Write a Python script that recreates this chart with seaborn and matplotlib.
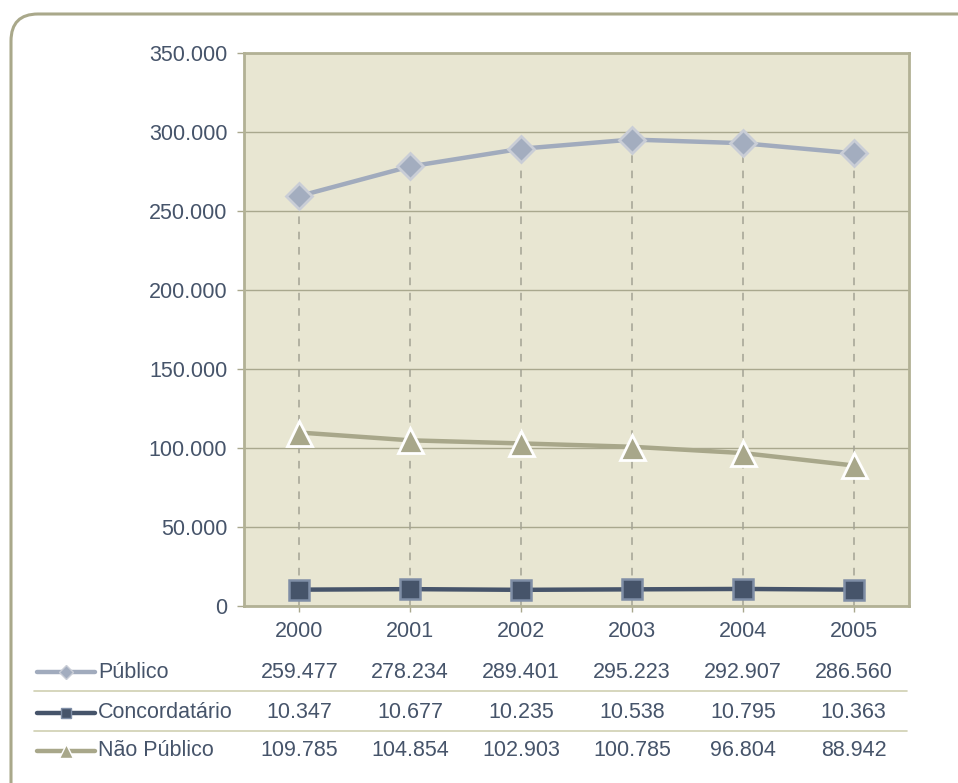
import pandas as pd
import matplotlib
matplotlib.use('Agg')
import matplotlib.pyplot as plt
import matplotlib.transforms as mtransforms
from matplotlib.patches import FancyBboxPatch
from matplotlib.lines import Line2D
import seaborn as sns

years = ['2000', '2001', '2002', '2003', '2004', '2005']
publico = [259477, 278234, 289401, 295223, 292907, 286560]
concordatario = [10347, 10677, 10235, 10538, 10795, 10363]
nao_publico = [109785, 104854, 102903, 100785, 96804, 88942]
series_names = ['Público', 'Concordatário', 'Não Público']
yticks = [0, 50000, 100000, 150000, 200000, 250000, 300000, 350000]

def fmt(v):
    return '{:,}'.format(v).replace(',', '.')

rows = []
for name, vals in zip(series_names, [publico, concordatario, nao_publico]):
    for i, (y, v) in enumerate(zip(years, vals)):
        rows.append({'pos': i, 'Ano': y, 'Série': name, 'Valor': v})
df = pd.DataFrame(rows)

sns.set_theme(style='white')
plt.rcParams['font.family'] = ['Liberation Sans', 'DejaVu Sans']
txt = '#46546a'

fig = plt.figure(figsize=(9.58, 7.83), dpi=100)
ax = fig.add_axes([244 / 958, 177 / 783, 665 / 958, 553 / 783])
ax.set_facecolor('#e8e6d2')

# rounded frame around the whole chart (inches, runs off right and bottom)
frame = FancyBboxPatch((0.11, -0.3), 9.85, 7.99,
                       boxstyle='round,pad=0,rounding_size=0.27',
                       transform=fig.dpi_scale_trans, fill=False,
                       edgecolor='#a9a88a', linewidth=2.2, zorder=0)
fig.patches.append(frame)

# drop lines
ax.vlines(range(len(years)), 0, publico, colors='#a4a394', linestyles=(0, (5, 5)),
          linewidth=1.1, zorder=1)

styles = {
    'Público': dict(color='#a1abbd', marker='D', ms=13, mfc='#a3adbf', mec='#c9cdd6', mew=2),
    'Concordatário': dict(color='#46546a', marker='s', ms=14, mfc='#46546a', mec='#7f8ea6', mew=1.8),
    'Não Público': dict(color='#a8a78a', marker='^', ms=18, mfc='#a8a78a', mec='white', mew=2),
}
for name in series_names:
    st = styles[name]
    sns.lineplot(data=df[df['Série'] == name], x='pos', y='Valor', ax=ax,
                 color=st['color'], linewidth=3.2, marker=st['marker'],
                 markersize=st['ms'], markerfacecolor=st['mfc'],
                 markeredgecolor=st['mec'], markeredgewidth=st['mew'],
                 legend=False, zorder=3)

ax.set_xlim(-0.5, len(years) - 0.5)
ax.set_ylim(0, 350000)
ax.set_yticks(yticks)
ax.set_yticklabels([fmt(v) for v in yticks])
ax.set_xticks(range(len(years)))
ax.set_xticklabels(years)
ax.set_xlabel('')
ax.set_ylabel('')
ax.yaxis.grid(True, color='#a9a88e', linewidth=1)
ax.xaxis.grid(False)
ax.set_axisbelow(True)
for s in ax.spines.values():
    s.set_color('#b2b195')
    s.set_linewidth(2)
ax.tick_params(axis='y', length=5, width=1, color='#a9a88e', pad=7,
               labelsize=15.5, labelcolor=txt, left=True)
ax.tick_params(axis='x', length=4, width=1, color='#a9a88e', pad=7,
               labelsize=15.5, labelcolor=txt, bottom=True)

# data table under the chart
trans = mtransforms.blended_transform_factory(ax.transData, fig.transFigure)
row_y = [1 - 672 / 783, 1 - 713 / 783, 1 - 751 / 783]
for name, vals, ry in zip(series_names, [publico, concordatario, nao_publico], row_y):
    for i, v in enumerate(vals):
        fig.text(i, ry, fmt(v), transform=trans, ha='center', va='center',
                 fontsize=15.5, color=txt)
    fig.text(98 / 958, ry, name, ha='left', va='center', fontsize=15.5, color=txt)
    st = styles[name]
    fig.add_artist(Line2D([37 / 958, 95 / 958], [ry, ry], color=st['color'],
                          linewidth=3.2, transform=fig.transFigure))
    fig.add_artist(Line2D([66 / 958], [ry], marker=st['marker'], color=st['color'],
                          markersize=st['ms'] * 0.55, markerfacecolor=st['mfc'],
                          markeredgecolor=st['mec'], markeredgewidth=1,
                          transform=fig.transFigure, linestyle='none'))
for sy in [691, 731]:
    fig.add_artist(Line2D([34 / 958, 907 / 958], [1 - sy / 783, 1 - sy / 783],
                          color='#cfcfb2', linewidth=1.2, transform=fig.transFigure))

fig.savefig('out.png', dpi=100)
